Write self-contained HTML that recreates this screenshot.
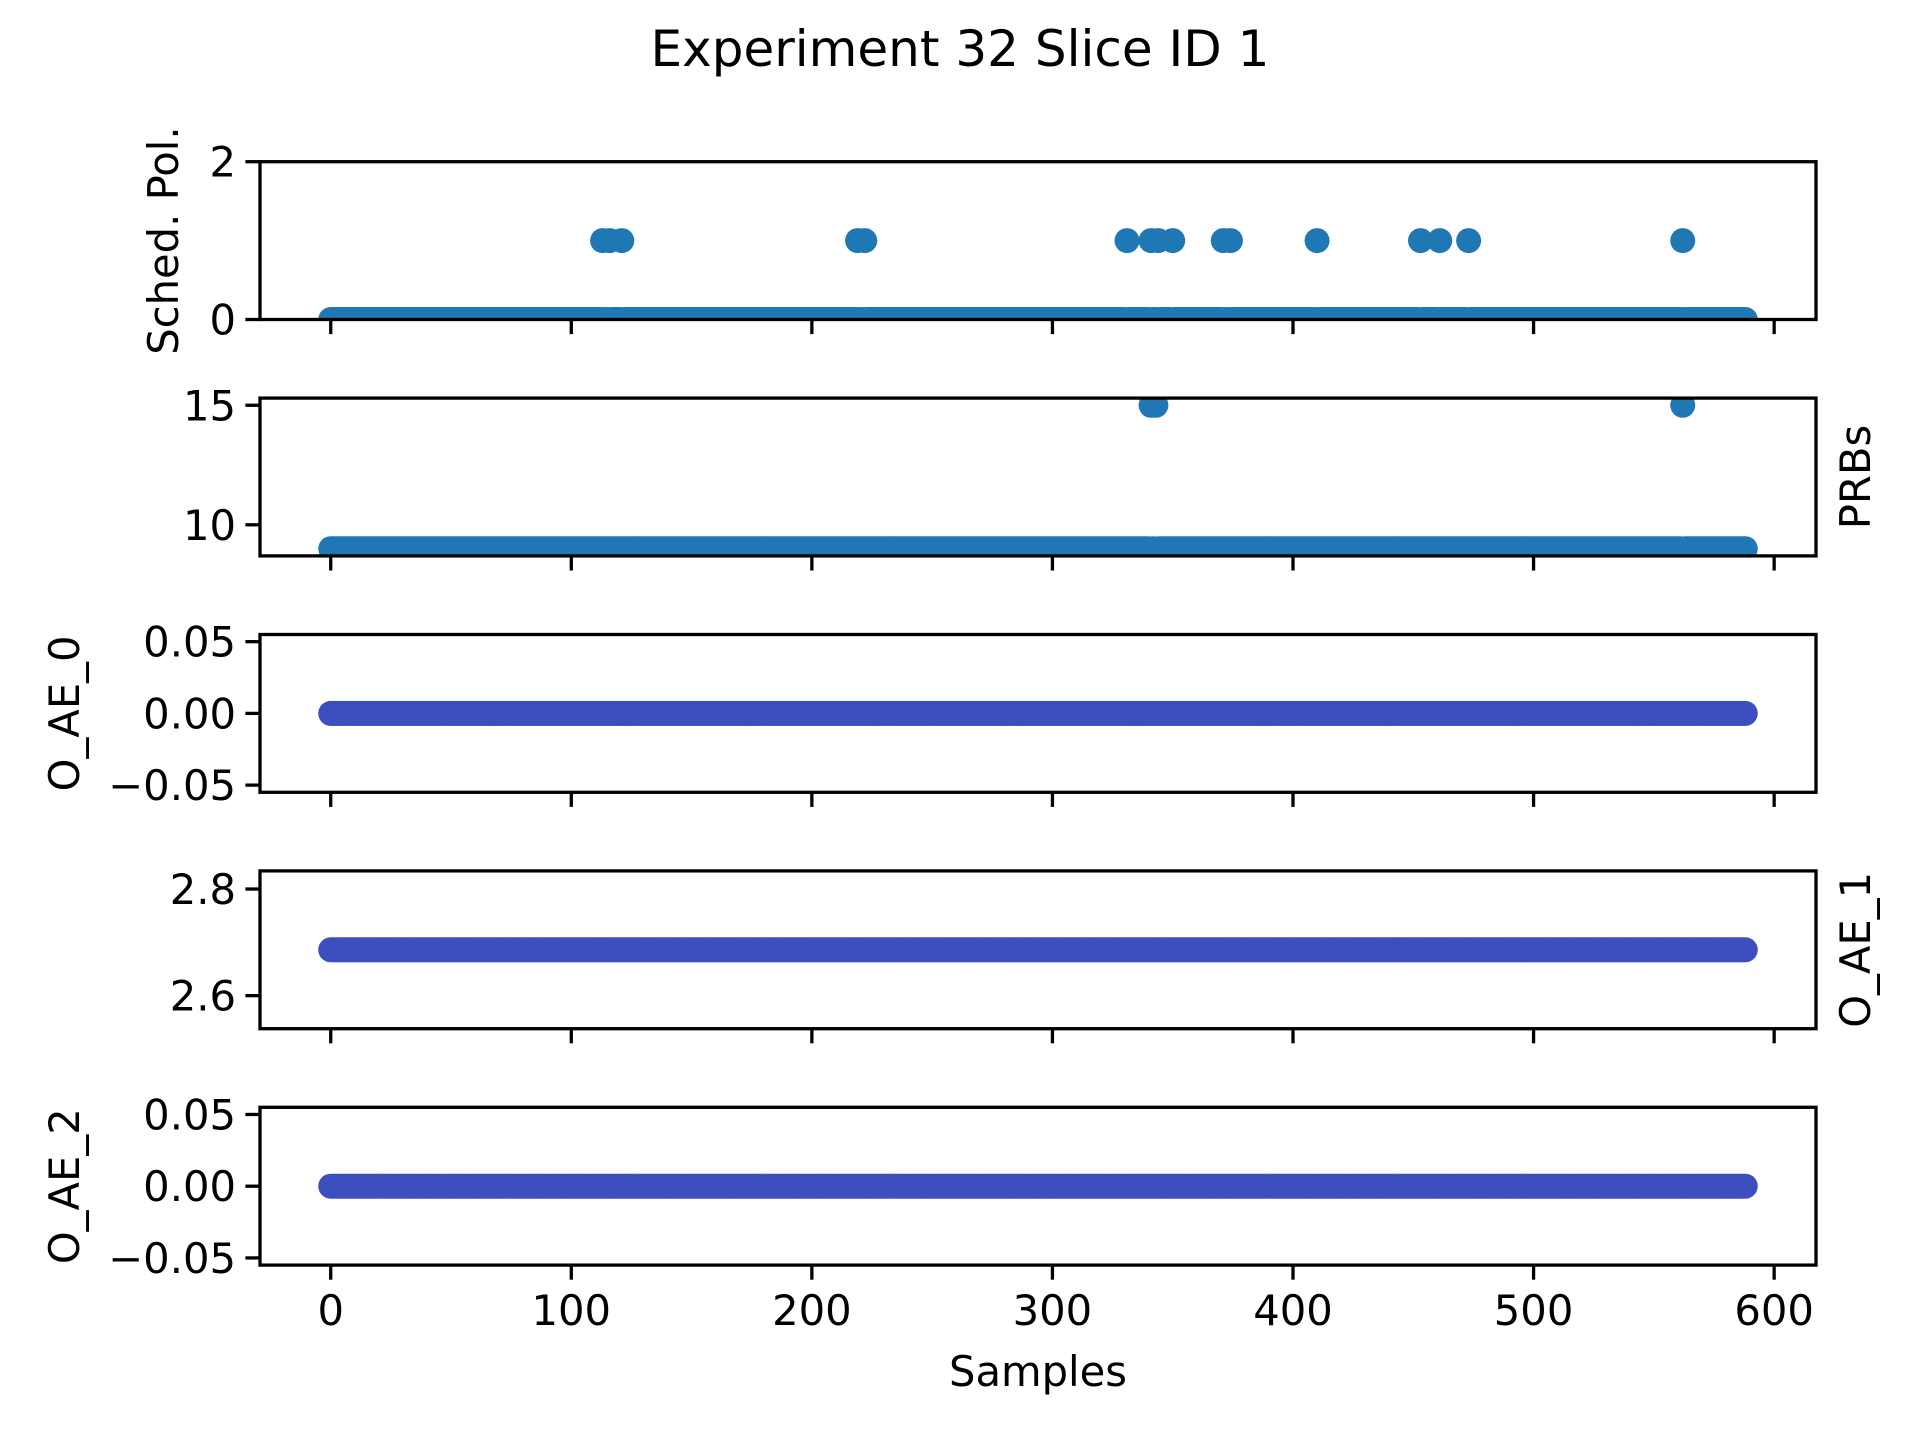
<!DOCTYPE html>
<html><head><meta charset="utf-8"><style>
html,body{margin:0;padding:0;background:#fff;}
svg{display:block;font-family:"DejaVu Sans","Liberation Sans",sans-serif;}
</style></head><body>
<svg id="fig" width="1920" height="1440" viewBox="0 0 1920 1440" xmlns="http://www.w3.org/2000/svg">
<rect width="1920" height="1440" fill="#fff"/>
<text x="960" y="66" font-size="50" text-anchor="middle">Experiment 32 Slice ID 1</text>
<text x="1038" y="1386" font-size="41.7" text-anchor="middle">Samples</text>
</svg>
<script>
const sampleCount = 589;
const schedOnesIdx = [113,116,121,219,222,331,341,344,350,371,374,410,453,461,473,562];
const prbHighIdx = [341,343,562];
const prbBase = 9, prbHigh = 15;
const oae0Value = 0, oae1Value = 2.686, oae2Value = 0;
const xTicks = [0,100,200,300,400,500,600];

const panels = [
 {name:'sched-pol', label:'Sched. Pol.', side:'left', lx:178, ymin:0, ymax:2, ticks:[0,2], tickLabels:['0','2'], color:'#1f77b4',
  vals: Array.from({length:sampleCount}, (_,i)=> schedOnesIdx.includes(i)?1:0)},
 {name:'prbs', label:'PRBs', side:'right', lx:1870, ymin:8.7, ymax:15.3, ticks:[10,15], tickLabels:['10','15'], color:'#1f77b4',
  vals: Array.from({length:sampleCount}, (_,i)=> prbHighIdx.includes(i)?prbHigh:prbBase)},
 {name:'o-ae-0', label:'O_AE_0', side:'left', lx:79, ymin:-0.055, ymax:0.055, ticks:[-0.05,0,0.05], tickLabels:['\u22120.05','0.00','0.05'], color:'#3d4ebf',
  vals: Array.from({length:sampleCount}, ()=>oae0Value)},
 {name:'o-ae-1', label:'O_AE_1', side:'right', lx:1870, ymin:2.538, ymax:2.834, ticks:[2.6,2.8], tickLabels:['2.6','2.8'], color:'#3d4ebf',
  vals: Array.from({length:sampleCount}, ()=>oae1Value)},
 {name:'o-ae-2', label:'O_AE_2', side:'left', lx:79, ymin:-0.055, ymax:0.055, ticks:[-0.05,0,0.05], tickLabels:['\u22120.05','0.00','0.05'], color:'#3d4ebf',
  vals: Array.from({length:sampleCount}, ()=>oae2Value)}
];

const NS='http://www.w3.org/2000/svg';
const svg=document.getElementById('fig');
const L=260, R=1816, xmin=-29.4, xmax=617.4;
const H=157.8, P=236.4, T0=161.7;
const xs = v => L + (v-xmin)/(xmax-xmin)*(R-L);
function mk(tag, attrs, parent){const e=document.createElementNS(NS,tag);for(const k in attrs)e.setAttribute(k,attrs[k]);(parent||svg).appendChild(e);return e;}

panels.forEach((p,pi)=>{
  const top=T0+pi*P, bot=top+H;
  const ys = v => bot - (v-p.ymin)/(p.ymax-p.ymin)*H;
  const g=mk('g',{});
  
  
  const clipId='clip'+pi;
  const cp=mk('clipPath',{id:clipId},g); mk('rect',{x:L,y:top,width:R-L,height:H},cp);
  const marks=mk('g',{'clip-path':'url(#'+clipId+')'},g);
  
  
  p.vals.forEach((v,i)=>{
    const c=mk('circle',{cx:xs(i).toFixed(2),cy:ys(v).toFixed(2),r:12.5,fill:p.color},marks);
    
    
  });
  const frame=mk('rect',{x:L,y:top,width:R-L,height:H,fill:'none',stroke:'#000','stroke-width':3.3},g);
  
  
  p.ticks.forEach((t,ti)=>{
    const y=ys(t);
    mk('line',{x1:L-14.6,y1:y,x2:L,y2:y,stroke:'#000','stroke-width':3.3},g);
    const tx=mk('text',{x:L-24,y:y+15,'font-size':41.7,'text-anchor':'end'},g);
    tx.textContent=p.tickLabels[ti];
    
    
  });
  xTicks.forEach(t=>{
    const x=xs(t);
    mk('line',{x1:x,y1:bot,x2:x,y2:bot+14.6,stroke:'#000','stroke-width':3.3},g);
    if(pi===panels.length-1){
      const tx=mk('text',{x:x,y:bot+60,'font-size':41.7,'text-anchor':'middle'},g);
      tx.textContent=String(t);
      
      
    }
  });
  const cy=(top+bot)/2;
  const lx = p.lx;
  const lab=mk('text',{x:lx,y:cy,'font-size':41.7,'text-anchor':'middle',transform:'rotate(-90 '+lx+' '+cy+')'},g);
  lab.textContent=p.label;
  
  
});
</script>
</body></html>
